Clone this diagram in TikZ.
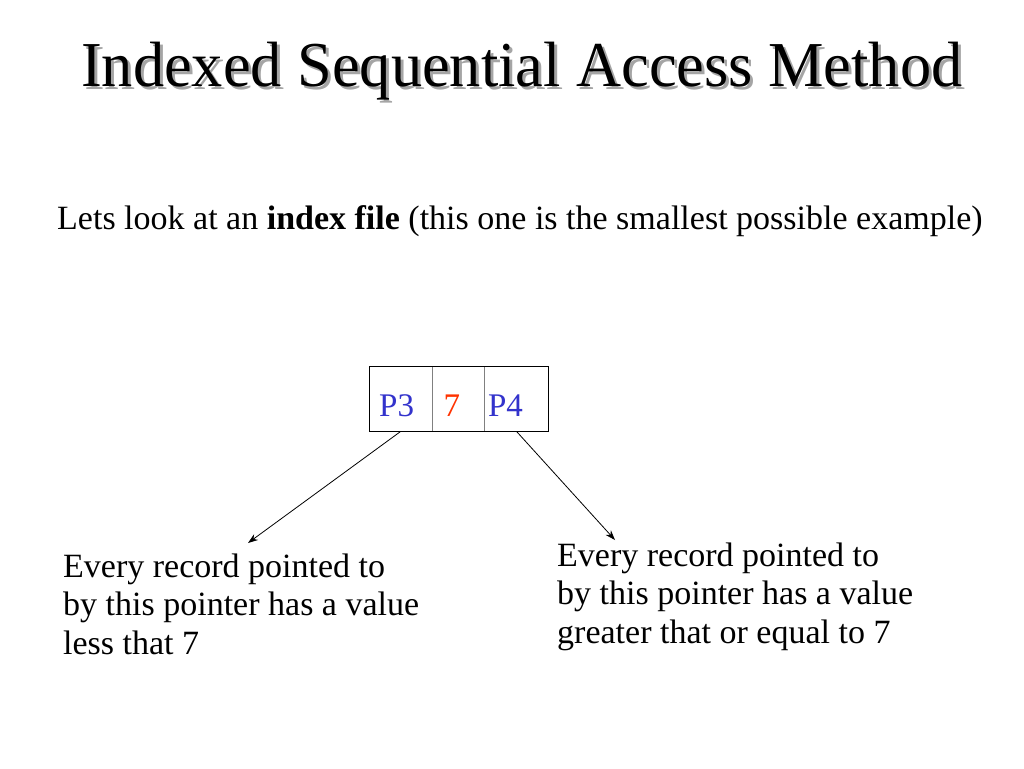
\documentclass[tikz,border=0pt]{standalone}
\usepackage{fontspec}
\setmainfont{Liberation Serif}
\usetikzlibrary{positioning,arrows.meta}
\tikzstyle{slide} = [x = 1pt, y = -1pt]
\definecolor{pointerColor}{RGB}{51,51,204}
\definecolor{keyColor}{RGB}{255,51,0}
\definecolor{shadowColor}{RGB}{165,165,165}
\tikzstyle{titleText} = [font=\fontsize{64}{70}\selectfont, inner sep=0, anchor=base west, xscale=.974]
\tikzstyle{introText} = [font=\fontsize{34}{40}\selectfont, inner sep=0, anchor=base west]
\tikzstyle{bodyText} = [font=\fontsize{34}{38.5}\selectfont, inner sep=0, anchor=base west, align=left]
\tikzstyle{cellBox} = [minimum height=65pt, inner sep=0, anchor=north west]
\tikzstyle{cellText} = [font=\fontsize{33}{33}\selectfont, inner sep=0, anchor=base west]
\tikzstyle{dividerLine} = [color=gray, thick]
\tikzstyle{pointerArrow} = [-{Stealth[length=10pt, width=7pt]}, thick]
\newcommand{\titleLine}{Indexed Sequential Access Method}
\newcommand{\cellDrop}{-17.5pt}

\begin{document}
\begin{tikzpicture}[slide]
  \useasboundingbox [fill=white] (0,0) rectangle (1024,768);
  % title with its shadow
  \node [titleText, text=shadowColor] (titleShadow) at (84,89.5) {\titleLine};
  \node [titleText] (title) at (81,86) {\titleLine};
  \node [introText] (intro) at (57,229) {Lets look at an \textbf{index file} (this one is the smallest possible example)};

  % the index record
  \node [cellBox, minimum width=63pt] (pThreeCell) at (369,366) {};
  \node [cellBox, minimum width=52pt, right=0pt of pThreeCell] (keyCell) {};
  \node [cellBox, minimum width=63pt, right=0pt of keyCell] (pFourCell) {};
  \draw [dividerLine] (keyCell.north west) -- (keyCell.south west);
  \draw [dividerLine] (pFourCell.north west) -- (pFourCell.south west);
  \draw [thick] (pThreeCell.north west) rectangle (pFourCell.south east);
  \node [cellText, text=pointerColor] (pThree) at ([xshift=10pt, yshift=\cellDrop]pThreeCell.west) {P3};
  \node [cellText, text=keyColor] (key) at ([xshift=11pt, yshift=\cellDrop]keyCell.west) {7};
  \node [cellText, text=pointerColor] (pFour) at ([xshift=3pt, yshift=\cellDrop]pFourCell.west) {P4};

  % where the pointers go
  \node [bodyText] (lessText) at (63,654) {Every record pointed to\\by this pointer has a value\\less that 7};
  \node [bodyText] (moreText) at (557,643) {Every record pointed to\\by this pointer has a value\\greater that or equal to 7};
  \coordinate (lessEnd) at (248,543);
  \coordinate (moreEnd) at (615,540);
  \draw [pointerArrow] (pThreeCell.south) -- (lessEnd);
  \draw [pointerArrow] (pFourCell.south) -- (moreEnd);
\end{tikzpicture}
\end{document}
